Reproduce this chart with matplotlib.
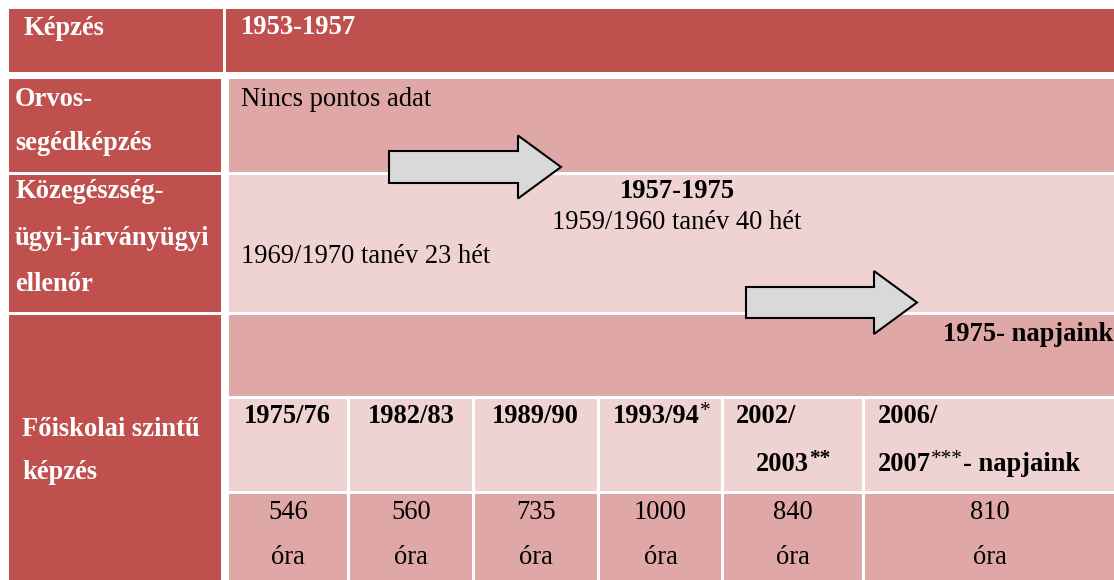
import matplotlib.pyplot as plt
from matplotlib.patches import Rectangle, FancyArrow

plt.rcParams['font.family'] = ['Liberation Serif', 'DejaVu Serif']

# szinek (Word tablazat stilus, accent 2)
sotet = '#C0504D'
kozep = '#DFA7A6'
vilagos = '#EFD3D2'
nyil_szin = '#D9D9D9'

# adatok
bal_cimkek = [['Képzés'], ['Orvos-', 'segédképzés'],
              ['Közegészség-', 'ügyi-járványügyi', 'ellenőr'],
              ['Főiskolai szintű', 'képzés']]
fejlec = '1953-1957'
orvos_szoveg = 'Nincs pontos adat'
kozeg_cim = '1957-1975'
kozeg_sor1 = '1959/1960 tanév 40 hét'
kozeg_sor2 = '1969/1970 tanév 23 hét'
foiskola_cim = '1975- napjaink'
tanevek = ['1975/76', '1982/83', '1989/90', '1993/94', '2002/', '2006/']
tanev_jel = ['', '', '', '*', '', '']
masodik_sor = ['', '', '', '', '2003', '2007']
masodik_jel = ['', '', '', '', '**', '***']
masodik_vege = ['', '', '', '', '', '- napjaink']
orak = [546, 560, 735, 1000, 840, 810]

# elrendezes (pixelben)
oszlopok = [(229, 347), (350, 472), (475, 597), (600, 721), (724, 862), (865, 1114)]
sorok = [(9, 72), (79, 172), (175, 312), (315, 580)]
meret = 19.1

fig = plt.figure(figsize=(11.14, 5.80), dpi=100)
ax = fig.add_axes([0, 0, 1, 1])
ax.set_xlim(0, 1114)
ax.set_ylim(580, 0)
ax.axis('off')


def cella(x0, y0, x1, y1, szin):
    ax.add_patch(Rectangle((x0, y0), x1 - x0, y1 - y0, facecolor=szin, edgecolor='none'))


# bal oszlop
for i, (y0, y1) in enumerate(sorok):
    cella(9, y0, 223 if i == 0 else 221, y1, sotet)

# jobb oldal
cella(226, 9, 1114, 72, sotet)
cella(229, 79, 1114, 172, kozep)
cella(229, 175, 1114, 312, vilagos)
cella(229, 315, 1114, 396, kozep)
for x0, x1 in oszlopok:
    cella(x0, 399, x1, 491, vilagos)
    cella(x0, 494, x1, 580, kozep)

# bal cimkek
bal_pos = [(23, [35]), (15, [106, 150]), (15, [198, 245, 291]), (22, [436, 479])]
for sz, (x, ys) in zip(bal_cimkek, bal_pos):
    for s, y in zip(sz, ys):
        ax.text(x, y, s, color='white', fontsize=meret, fontweight='bold', va='baseline')

ax.text(241, 34, fejlec, color='white', fontsize=meret, fontweight='bold', va='baseline')
ax.text(241, 106, orvos_szoveg, fontsize=meret, va='baseline')
ax.text(677, 198, kozeg_cim, fontsize=meret, fontweight='bold', va='baseline', ha='center')
ax.text(677, 229, kozeg_sor1, fontsize=meret, va='baseline', ha='center')
ax.text(241, 263, kozeg_sor2, fontsize=meret, va='baseline')
ax.text(1113, 341, foiskola_cim, fontsize=meret, fontweight='bold', va='baseline', ha='right')

r = fig.canvas.get_renderer()


def darabos(x, y, darabok):
    # egymas utan irt szovegdarabok, a csillagok felso indexben
    for szoveg, felso, vastag in darabok:
        if not szoveg:
            continue
        if felso:
            t = ax.text(x, y - 7, szoveg, fontsize=meret * 0.8,
                        fontweight='bold' if vastag else 'normal', va='baseline')
        else:
            t = ax.text(x, y, szoveg, fontsize=meret, fontweight='bold', va='baseline')
        x += t.get_window_extent(r).width


tanev_bal = [244, 368, 492, 613, 736, 878]
masodik_bal = [0, 0, 0, 0, 756, 878]
for i in range(len(tanevek)):
    darabos(tanev_bal[i], 423, [(tanevek[i], False, True), (tanev_jel[i], True, False)])
    if masodik_sor[i]:
        darabos(masodik_bal[i], 471, [(masodik_sor[i], False, True),
                                      (masodik_jel[i], True, masodik_jel[i] == '**'),
                                      (masodik_vege[i], False, True)])

for (x0, x1), o in zip(oszlopok, orak):
    ax.text((x0 + x1) / 2, 519, str(o), fontsize=meret, va='baseline', ha='center')
    ax.text((x0 + x1) / 2, 564, 'óra', fontsize=meret, va='baseline', ha='center')

# nyilak: (x, y, hossz, vastagsag, fej szelesseg, fej hossz)
nyilak = [(389, 167, 172, 32, 63, 43), (746, 302.5, 171, 31, 63, 43)]
for x, y, h, v, fsz, fh in nyilak:
    ax.add_patch(FancyArrow(x, y, h, 0, width=v, head_width=fsz, head_length=fh,
                            length_includes_head=True, facecolor=nyil_szin,
                            edgecolor='black', linewidth=1.5, zorder=5))

fig.savefig('out.png', dpi=100)
